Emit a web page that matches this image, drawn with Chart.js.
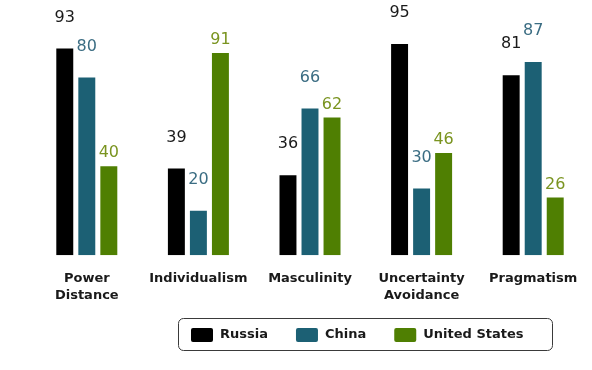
<!DOCTYPE html>
<html>
<head>
<meta charset="utf-8">
<script src="https://cdn.jsdelivr.net/npm/chart.js@4"></script>
<style>
  html, body { margin: 0; padding: 0; background: #fff; }
  #wrap { width: 592px; height: 370px; position: relative; }
</style>
</head>
<body>
<div id="wrap"><canvas id="c" width="592" height="370"></canvas></div>
<script>
const categories = [["Power", "Distance"], "Individualism", "Masculinity", ["Uncertainty", "Avoidance"], "Pragmatism"];
const seriesNames = ["Russia", "China", "United States"];
const russia = [93, 39, 36, 95, 81];
const china = [80, 20, 66, 30, 87];
const unitedStates = [40, 91, 62, 46, 26];

const barColors = ["#000000", "#1c6074", "#4f7f02"];
const labelColors = ["#1a1a1a", "#3b6d83", "#7a9420"];
const labelLift = [31, 31, 13];

const valueLabels = {
  id: 'valueLabels',
  afterDatasetsDraw(chart) {
    const ctx = chart.ctx;
    ctx.save();
    ctx.font = '16px "DejaVu Sans"';
    ctx.textAlign = 'center';
    ctx.textBaseline = 'middle';
    chart.data.datasets.forEach((ds, di) => {
      const meta = chart.getDatasetMeta(di);
      meta.data.forEach((bar, i) => {
        ctx.fillStyle = labelColors[di];
        ctx.fillText(String(ds.data[i]), bar.x, bar.y - labelLift[di]);
      });
    });
    ctx.restore();
  }
};

const boxLegend = {
  id: 'boxLegend',
  afterDraw(chart) {
    const ctx = chart.ctx;
    ctx.save();
    const left = 178, top = 318, w = 374, h = 32, r = 5;
    ctx.strokeStyle = '#3a3a3a';
    ctx.lineWidth = 1;
    ctx.beginPath();
    ctx.roundRect(left + 0.5, top + 0.5, w, h, r);
    ctx.stroke();
    ctx.font = 'bold 13px "DejaVu Sans"';
    ctx.textBaseline = 'middle';
    let x = left + 13;
    const cy = top + h / 2 + 1;
    chart.data.datasets.forEach((ds) => {
      ctx.fillStyle = ds.backgroundColor;
      ctx.beginPath();
      ctx.roundRect(x, cy - 7, 22, 14, 2);
      ctx.fill();
      x += 29;
      ctx.fillStyle = '#1a1a1a';
      ctx.fillText(ds.label, x, cy);
      x += ctx.measureText(ds.label).width + 28;
    });
    ctx.restore();
  }
};

new Chart(document.getElementById('c'), {
  type: 'bar',
  data: {
    labels: categories,
    datasets: [
      { label: seriesNames[0], data: russia, backgroundColor: barColors[0] },
      { label: seriesNames[1], data: china, backgroundColor: barColors[1] },
      { label: seriesNames[2], data: unitedStates, backgroundColor: barColors[2] }
    ]
  },
  options: {
    responsive: false,
    animation: false,
    devicePixelRatio: 1,
    categoryPercentage: 0.592,
    barPercentage: 0.77,
    layout: { padding: { left: 31, right: 3, top: 33, bottom: 59 } },
    plugins: {
      legend: { display: false },
      tooltip: { enabled: false }
    },
    scales: {
      x: {
        grid: { display: false },
        border: { display: false },
        ticks: {
          padding: 7,
          autoSkip: false,
          maxRotation: 0,
          color: '#1a1a1a',
          font: { family: '"DejaVu Sans"', size: 13, weight: 'bold', lineHeight: 1.3 }
        }
      },
      y: {
        display: false,
        min: 0,
        max: 100
      }
    }
  },
  plugins: [valueLabels, boxLegend]
});
</script>
</body>
</html>
